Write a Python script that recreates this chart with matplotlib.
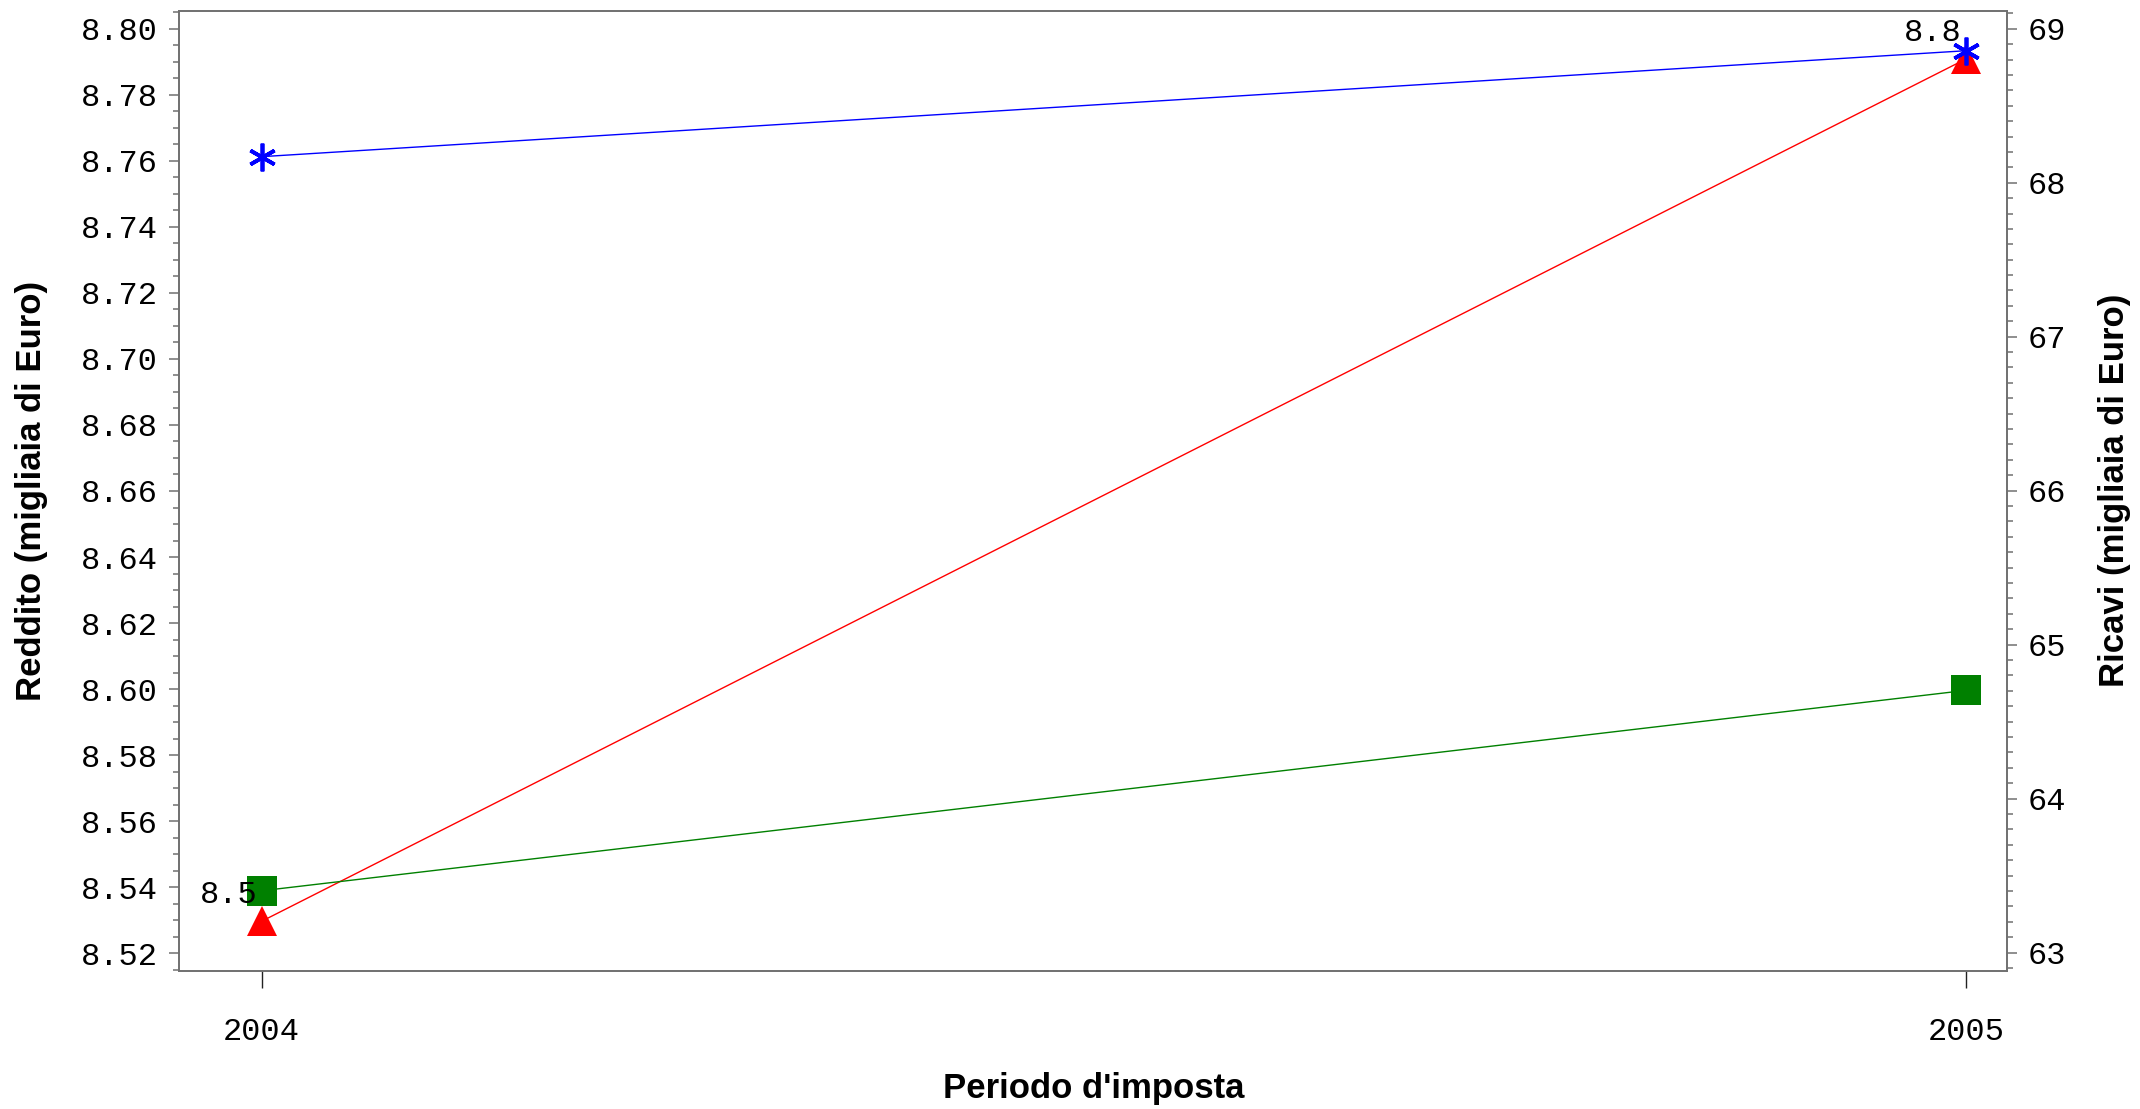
import matplotlib
matplotlib.use('Agg')
import matplotlib.pyplot as plt
from matplotlib.ticker import MultipleLocator, FormatStrFormatter, FixedLocator

# Data
years = [2004, 2005]
reddito = [8.5297, 8.7908]          # left axis, red triangles (labelled)
ricavi_blu = [68.169, 68.857]       # right axis, blue asterisks
ricavi_verde = [63.402, 64.703]     # right axis, green squares
reddito_labels = [f'{v:.1f}' for v in reddito]

mono = 'Liberation Mono'
sans = 'Liberation Sans'
spine_col = '#707070'

fig = plt.figure(figsize=(21.4, 11.09), dpi=100)
ax = fig.add_axes([0.08364, 0.12444, 0.85421, 0.86564])
ax2 = ax.twinx()

# lines + markers
ax.plot(years, reddito, color='#FF0000', lw=1.0, zorder=2)
ax.plot(years, reddito, ls='none', marker='^', ms=22, mew=0,
        color='#FF0000', zorder=3)

ax2.plot(years, ricavi_verde, color='#008000', lw=1.0, zorder=2)
ax2.plot(years, ricavi_blu, color='#0000FF', lw=1.0, zorder=2)
ax2.plot(years, ricavi_verde, ls='none', marker='s', ms=21.6, mew=0,
         color='#008000', zorder=3)
ax2.plot(years, ricavi_blu, ls='none', marker=(6, 2, 0), ms=20, mew=2.7,
         color='#0000FF', zorder=4)

# point labels for reddito, drawn on top of everything
for x, y, t in zip(years, reddito, reddito_labels):
    ax2.annotate(t, xy=(x, y), xycoords=ax.transData,
                 xytext=(-2.7, 13), textcoords='offset points',
                 ha='right', va='baseline', family=mono, fontsize=23,
                 zorder=6)

# axes limits and ticks
ax.set_xlim(2003.9515, 2005.0242)
ax.set_ylim(8.51464, 8.80536)
ax2.set_ylim(62.881, 69.115)

ax.yaxis.set_ticks_position('left')
ax2.yaxis.set_ticks_position('right')

ax.xaxis.set_major_locator(FixedLocator(years))
ax.xaxis.set_major_formatter(FormatStrFormatter('%d'))
ax.yaxis.set_major_locator(MultipleLocator(0.02))
ax.yaxis.set_minor_locator(MultipleLocator(0.005))
ax.yaxis.set_major_formatter(FormatStrFormatter('%.2f'))
ax2.yaxis.set_major_locator(MultipleLocator(1))
ax2.yaxis.set_minor_locator(MultipleLocator(0.1))
ax2.yaxis.set_major_formatter(FormatStrFormatter('%d'))

ax.tick_params(axis='x', which='major', length=12.2, width=1.0,
               color='#222222', pad=21)
ax.tick_params(axis='y', which='major', length=7.2, width=1.1,
               color=spine_col, pad=8)
ax.tick_params(axis='y', which='minor', length=4.3, width=1.1,
               color=spine_col)
ax2.tick_params(axis='y', which='major', length=7.2, width=1.1,
                color=spine_col, pad=8)
ax2.tick_params(axis='y', which='minor', length=4.0, width=1.1,
                color=spine_col)

for a in (ax, ax2):
    for lab in a.get_xticklabels() + a.get_yticklabels():
        lab.set_family(mono)
        lab.set_fontsize(23)
    for sp in a.spines.values():
        sp.set_color(spine_col)
        sp.set_linewidth(1.2)

# axis titles
fig.text(1094 / 2140, 1 - 1098 / 1109, "Periodo d'imposta",
         ha='center', va='baseline', family=sans, weight='bold', fontsize=25)
fig.text(41 / 2140, 1 - 491 / 1109, 'Reddito (migliaia di Euro)',
         rotation=90, rotation_mode='anchor', ha='center', va='baseline',
         family=sans, weight='bold', fontsize=25)
fig.text(2124 / 2140, 1 - 490 / 1109, 'Ricavi (migliaia di Euro)',
         rotation=90, rotation_mode='anchor', ha='center', va='baseline',
         family=sans, weight='bold', fontsize=25)

fig.savefig('out.png', dpi=100)
